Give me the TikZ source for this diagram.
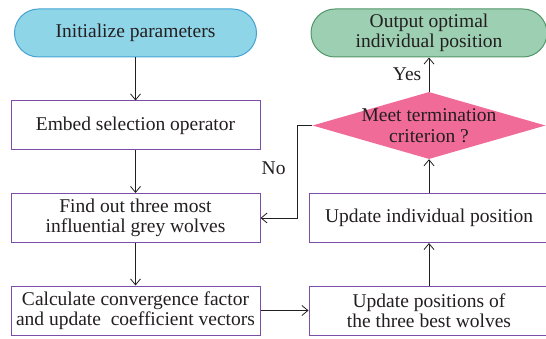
\documentclass[tikz,border=0pt]{standalone}
\usepackage{fontspec}
\setmainfont{Liberation Serif}
\newfontfamily\chartfont{Liberation Serif}
\usepackage{xcolor}
\usepackage{tikz}
\usetikzlibrary{arrows.meta,shapes,positioning,calc}
\definecolor{sky-fill}{HTML}{8FD5E8}
\definecolor{sky-line}{HTML}{45A3D3}
\definecolor{sage-fill}{HTML}{9DCFB2}
\definecolor{sage-line}{HTML}{52966A}
\definecolor{rose-fill}{HTML}{F06B97}
\definecolor{box-purple}{HTML}{7B4FA8}
\definecolor{ink}{HTML}{231F20}

\begin{document}
\begin{tikzpicture}
      [x=1pt, y=1pt, node distance=92.5pt, on grid,
        font=\chartfont\fontsize{19.5}{20.5}\selectfont, text=ink,
        step box/.style = {shape=rectangle, draw=box-purple,
        line width=1pt, align=center, inner sep=0pt,
        minimum width=249pt, minimum height=49pt},
        terminal/.style = {shape=rectangle, rounded corners=24pt,
        line width=1pt, align=center, inner sep=0pt,
        minimum height=48pt},
        decision/.style = {shape=diamond, fill=rose-fill,
        inner sep=0pt, minimum width=233pt, minimum height=67pt},
        post/.style={-{Straight Barb[length=6pt,width=10pt]},
        line width=0.8pt, draw=ink}]

      \useasboundingbox (0,0) rectangle (546,-339);

      \node [terminal, draw=sky-line, fill=sky-fill,
      minimum width=242pt] (Init) at (135.5,-33)
      {Initialize parameters};
      \node [step box, below=of Init] (Embed)
      {Embed selection operator};
      \node [step box, below=of Embed] (Find)
      {Find out three most\\influential grey wolves};
      \node [step box, below=of Find] (Calc)
      {Calculate convergence factor\\and update\ \ coefficient vectors};

      \node [terminal, draw=sage-line, fill=sage-fill,
      minimum width=236pt, right=293.5pt of Init] (Output)
      {Output optimal\\individual position};
      \node [decision, below=of Output, label={[align=center, text=ink,
        font=\chartfont\fontsize{19.5}{20.5}\selectfont]
        center:Meet termination\\criterion ?}] (Meet) {};
      \node [step box, minimum width=240pt, below=of Meet] (UpdInd)
      {Update individual position};
      \node [step box, minimum width=240pt, below=of UpdInd] (UpdPos)
      {Update positions of\\the three best wolves};

      \draw[post] (Init) -- (Embed);
      \draw[post] (Embed) -- (Find);
      \draw[post] (Find) -- (Calc);
      \draw[post] (Calc) -- (UpdPos);
      \draw[post] (UpdPos) -- (UpdInd);
      \draw[post] (UpdInd) -- (Meet);
      \draw[post] (Meet) -- (Output)
      node [midway, anchor=east, xshift=-4pt] {Yes};
      \draw[post] (Meet.west) -- ++(-15pt,0) |- (Find.east)
      node [pos=0.25, anchor=east, xshift=-8pt, yshift=4pt] {No};
    \end{tikzpicture}
\end{document}
